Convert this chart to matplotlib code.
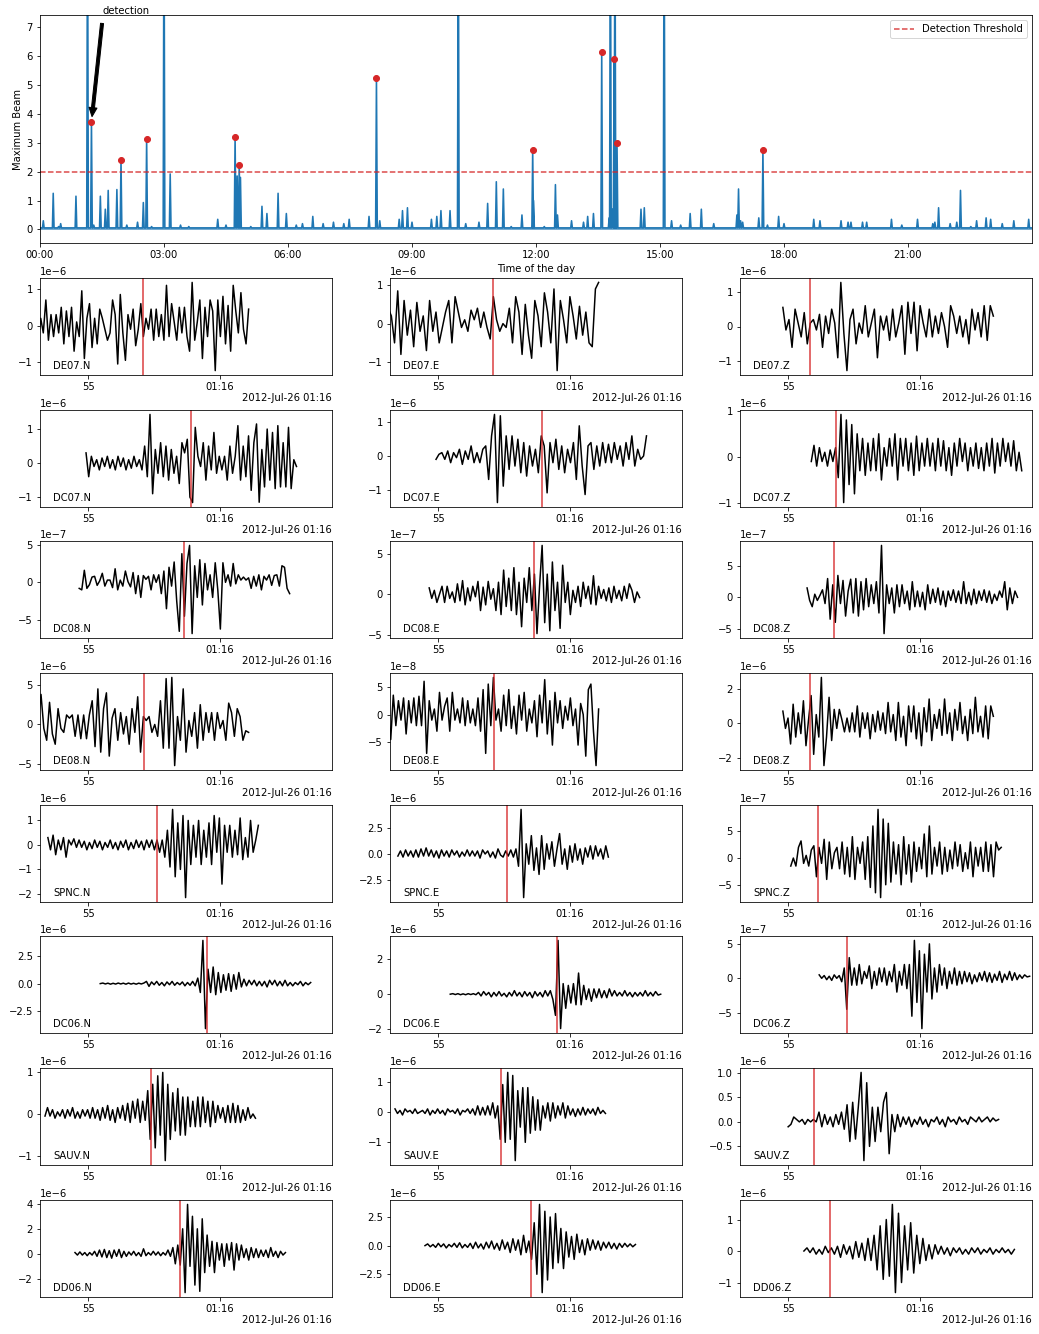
import numpy as np
import matplotlib
matplotlib.use("Agg")
import matplotlib.pyplot as plt

# ---------------- top panel data (hours of day, beam value) ----------------
offscale_hours = [1.15, 3.00, 10.12, 13.80, 13.91, 15.10]
offscale_values = [12, 12, 12, 12, 12, 12]
spike_hours = [0.08, 0.32, 0.45, 0.50, 0.87, 1.30, 1.46, 1.58, 1.65, 1.86, 2.10, 2.36, 2.50,
               2.70, 3.15, 3.40, 3.60, 4.30, 4.50, 4.77, 4.85, 5.10, 5.37, 5.49, 5.76, 5.96,
               6.20, 6.35, 6.60, 6.85, 7.10, 7.35, 7.48, 7.96, 8.22, 8.69, 8.77, 8.89, 9.00,
               9.47, 9.60, 9.70, 9.92, 10.30, 10.62, 10.83, 11.04, 11.21, 11.40, 11.66, 11.94,
               12.20, 12.47, 12.52, 12.86, 13.15, 13.25, 13.39, 13.77, 13.85, 13.93, 14.54,
               14.62, 15.28, 15.50, 15.73, 16.00, 16.30, 16.86, 16.90, 16.95, 17.00, 17.39,
               17.60, 17.87, 18.00, 18.72, 18.87, 19.38, 19.55, 19.62, 19.90, 20.00, 20.60,
               20.85, 21.23, 21.60, 21.65, 21.74, 22.02, 22.18, 22.27, 22.52, 22.66, 22.89,
               23.00, 23.28, 23.56, 23.92]
spike_values = [0.30, 1.25, 0.10, 0.20, 1.15, 0.15, 1.15, 0.70, 1.35, 1.38, 0.15, 0.25, 0.93,
                0.10, 1.92, 0.15, 0.10, 0.35, 0.15, 1.85, 1.80, 0.10, 0.80, 0.55, 1.25, 0.55,
                0.15, 0.20, 0.45, 0.20, 0.25, 0.20, 0.35, 0.45, 0.30, 0.35, 0.65, 0.75, 0.25,
                0.35, 0.45, 0.65, 0.65, 0.20, 0.25, 0.90, 1.65, 1.40, 0.10, 0.50, 1.00,
                0.10, 1.55, 0.50, 0.30, 0.25, 0.45, 0.55, 0.40, 0.70, 1.50, 0.70,
                0.75, 0.30, 0.15, 0.55, 0.70, 0.20, 0.50, 1.40, 0.30, 0.25, 0.40,
                0.15, 0.45, 0.20, 0.35, 0.30, 0.30, 0.25, 0.25, 0.25, 0.25, 0.35,
                0.15, 0.35, 0.20, 0.25, 0.75, 0.20, 0.25, 1.35, 0.10, 0.30, 0.40,
                0.35, 0.20, 0.30, 0.35]
det_hours = [1.245, 1.96, 2.58, 4.72, 4.82, 8.14, 11.92, 13.59, 13.89, 13.96, 17.49]
det_values = [3.72, 2.40, 3.13, 3.20, 2.23, 5.25, 2.75, 6.15, 5.90, 3.00, 2.75]
baseline = 0.05
threshold = 2.0
hour_ticks = [0, 3, 6, 9, 12, 15, 18, 21]
hour_labels = ["00:00", "03:00", "06:00", "09:00", "12:00", "15:00", "18:00", "21:00"]

# ---------------- waveform data (amplitudes in units of the panel scale) ----------------
stations = ["DE07", "DC07", "DC08", "DE08", "SPNC", "DC06", "SAUV", "DD06"]
components = ["N", "E", "Z"]
# seconds after 01:15:00, row-major (station, component)
trace_start = [53.10, 53.10, 54.80,
               54.92, 54.92, 55.88,
               54.66, 54.66, 55.72,
               53.10, 53.10, 54.80,
               53.47, 53.47, 55.10,
               55.46, 55.46, 56.18,
               53.36, 53.36, 55.00,
               54.50, 54.50, 55.60]
pick_time = [57.10, 57.10, 55.84,
             58.90, 58.93, 56.83,
             58.66, 58.66, 56.75,
             57.14, 57.14, 55.84,
             57.60, 57.60, 56.14,
             59.50, 59.52, 57.25,
             57.40, 57.40, 56.00,
             58.50, 58.53, 56.60]
amp_scale = [1e-6, 1e-6, 1e-6,
             1e-6, 1e-6, 1e-6,
             1e-7, 1e-7, 1e-7,
             1e-6, 1e-8, 1e-6,
             1e-6, 1e-6, 1e-7,
             1e-6, 1e-6, 1e-7,
             1e-6, 1e-6, 1e-6,
             1e-6, 1e-6, 1e-6]
trace_duration = 8.0

de07_n = [-0.4, 0.2, -0.2, 0.7, -0.4, 0.3, -0.3, 0.3, -0.2, 0.5, -0.5, 0.4, -0.3, 0.5, -0.7, 0.1,
          -0.3, 0.95, -0.9, 0.2, 0.6, -0.6, 0.2, -0.5, 0.45, 0.2, -0.1, -0.4, -0.2, 0.7, 0.3,
          -1.05, 0.85, -0.2, -0.95, 0.3, -0.1, 0.45, -0.55, -0.1, 0.6, -0.3, 0.2, -0.1, 0.45,
          -0.4, 0.45, -0.3, 0.3, -0.4, 1.1, -0.3, 0.6, 0.1, -0.4, 0.5, -0.2, 0.5, -0.3, -0.7,
          1.18, -0.4, 0.1, 0.7, -0.9, 0.5, -0.3, 0.7, 0.4, -1.23, 0.7, -0.3, 0.8, -0.5, 0.55,
          -0.7, 1.1, 0.4, -0.2, 0.9, -0.1, -0.5, 0.45]
de07_e = [0.4, 0.2, -0.5, 0.85, -0.8, 0.6, -0.3, 0.35, -0.6, 0.55, -0.2, 0.2, -0.7, 0.6, -0.2,
          0.3, -0.5, -0.1, 0.3, 0.6, -0.5, 0.7, 0.3, -0.1, 0.1, -0.2, 0.35, 0.1, 0.4, -0.1, 0.3,
          -0.1, -0.4, 0.7, 0.1, -0.2, 0.0, -0.1, 0.4, -0.5, 0.7, 0.3, -0.8, 0.5, -0.3, -0.9, 0.6,
          0.2, -0.6, 0.8, 0.3, -0.5, 0.9, -1.22, 0.6, 0.1, -0.5, 0.7, 0.2, -0.4, 0.45, -0.3, 0.3,
          -0.5, -0.6, 0.9, 1.07]
de07_z = [0.55, -0.1, 0.2, -0.6, 0.5, 0.1, -0.3, 0.4, -0.5, 0.1, 0.2, -0.1, 0.35, -0.6, 0.3,
          -0.2, 0.5, 0.1, -0.9, 1.27, -0.2, -1.27, 0.2, 0.5, -0.5, 0.1, -0.2, 0.6, -0.3, 0.1, 0.5,
          -0.9, 0.3, -0.1, 0.3, -0.4, 0.5, -0.3, 0.1, 0.6, -0.8, 0.7, -0.2, 0.7, -0.7, 0.6, 0.1,
          -0.3, 0.5, -0.3, 0.3, -0.2, 0.4, 0.0, -0.6, 0.6, 0.3, -0.2, 0.3, -0.3, 0.2, -0.5, 0.5,
          -0.1, 0.4, -0.3, 0.6, -0.4, 0.6, 0.3]
dc07_n = [0.3, -0.4, 0.2, -0.1, 0.1, -0.2, 0.15, -0.1, 0.2, -0.15, 0.1, -0.2, 0.2, -0.1, 0.15,
          -0.2, 0.1, -0.15, 0.2, -0.1, 0.1, -0.2, 0.5, -0.4, 1.43, -0.9, 0.4, -0.3, 0.6, -0.4,
          0.5, -0.5, 0.4, -0.3, 0.2, -0.6, 0.6, 0.3, 0.7, -1.0, -1.16, 1.05, 0.2, -0.1, 0.6,
          -0.5, 0.5, -0.2, 0.9, -0.3, 0.2, -0.2, 0.2, -0.5, 0.5, -0.3, 0.2, 1.1, -0.5, 0.5, -0.4,
          0.8, -0.8, 0.6, 1.15, -1.15, 0.4, -0.7, 1.0, -0.5, 0.9, -0.75, 1.1, -0.7, 0.6, -0.7,
          1.05, -0.75, 0.1, -0.1]
dc07_e = [-0.1, 0.05, 0.1, -0.1, 0.15, -0.2, 0.1, -0.05, 0.2, -0.25, 0.15, -0.1, 0.3, -0.2, 0.1,
          -0.2, 0.2, 0.3, -0.7, 0.6, 1.24, -1.39, 1.2, -0.9, 0.6, -0.4, 0.6, -0.3, 0.5, -0.5, 0.4,
          -0.6, 0.3, -0.3, 0.2, -0.5, 0.6, 0.3, -1.1, 0.4, -0.2, 0.5, -0.4, 0.3, -0.5, 0.2, -0.2,
          0.4, -0.7, 0.9, -0.3, -1.15, 0.3, 0.4, -0.4, 0.3, -0.3, 0.4, -0.2, 0.35, -0.2, 0.4,
          -0.1, 0.3, -0.3, 0.4, -0.1, 0.6, -0.3, 0.2, -0.1, 0.0, 0.6]
dc07_z = [-0.1, 0.25, -0.2, 0.2, -0.1, 0.1, -0.2, 0.15, -0.1, 0.2, -0.45, 0.92, -0.99, 0.8, -0.6,
          0.7, -0.8, 0.5, -0.3, 0.4, -0.4, 0.3, -0.3, 0.4, -0.3, 0.5, -0.5, 0.2, -0.2, 0.4, -0.2,
          0.5, -0.5, 0.4, -0.2, 0.4, -0.3, 0.3, -0.4, 0.45, -0.3, 0.3, -0.2, 0.4, -0.2, 0.3, -0.3,
          0.4, -0.2, 0.35, -0.3, 0.2, -0.4, 0.3, -0.2, 0.4, -0.1, 0.3, -0.3, 0.2, -0.2, 0.3,
          -0.25, 0.2, -0.3, 0.3, -0.2, 0.4, -0.35, 0.3, -0.2, 0.4, -0.1, 0.3, -0.2, 0.35, -0.3,
          0.1, -0.3]
dc08_n = [-0.8, -1.0, 1.6, -0.8, -0.3, 0.7, 0.8, -0.4, 0.2, 1.2, -0.5, 0.3, 0.3, -0.7, 1.8, -1.0,
          0.3, -0.5, 1.5, 0.1, -0.6, 1.3, -1.5, 0.9, -2.0, 0.9, 0.4, 0.8, -1.0, 1.0, 0.0, 1.0,
          -1.5, 1.5, -3.5, 2.0, -0.5, 2.7, -2.5, -6.5, 3.8, -4.5, 2.5, 4.9, -6.8, 2.2, -2.0, 3.0,
          -3.0, 2.5, -1.0, 1.0, -2.0, 2.6, -1.0, -6.2, 2.6, 0.0, 1.0, -0.5, 2.5, -0.2, 1.0, 0.3,
          0.7, 0.3, 0.6, -0.8, 0.8, -0.5, 1.0, -1.0, 0.8, 0.3, 1.0, -0.4, 0.9, 1.0, -0.5, 2.2,
          2.0, -0.8, -1.5]
dc08_e = [0.8, -0.5, 0.5, -1.0, 0.0, 1.0, -1.0, 1.0, -0.5, 0.3, -1.0, 1.3, -0.8, 1.7, -1.3, 0.8,
          -0.8, 1.0, -0.3, 1.6, -2.0, 0.9, -1.3, 1.6, -0.6, 0.7, -2.0, 1.5, -2.5, 3.0, -1.5, 2.0,
          -2.0, 3.3, -2.5, 1.5, -4.0, 2.0, -1.0, 3.3, -2.0, 2.5, -4.85, 1.0, 6.05, -3.5, 2.5,
          -4.5, 4.0, -2.0, 1.5, -4.2, 3.6, -1.0, 1.5, -2.5, 0.5, -1.0, 1.0, -1.5, 1.5, -0.5, 1.0,
          -1.2, 2.3, -1.3, 1.0, -0.5, 0.6, -0.8, 0.8, -1.0, 1.0, -0.5, 0.5, -0.8, 1.0, -0.5, 1.3,
          0.5, -1.0, 0.3, -0.4]
dc08_z = [1.5, -0.5, -1.5, 0.5, -0.5, 0.3, 1.2, -1.0, 3.0, -3.5, 2.0, -4.0, 3.5, -1.0, 2.7, -3.0,
          1.0, 2.9, -2.5, 3.0, -3.0, 2.5, -2.0, 3.0, -1.5, 2.0, -1.0, 2.5, -2.5, 8.3, -5.8, 2.0,
          -1.0, 1.5, -2.5, 2.0, -1.5, 2.0, -1.0, 1.0, -2.0, 2.5, -1.5, 1.0, -1.5, 0.8, -2.0, 2.0,
          -1.0, 1.3, -0.8, 1.5, -1.2, 1.0, -1.5, 1.0, -0.5, 1.2, -0.8, 1.0, -1.0, 2.5, -1.0, 0.8,
          -1.2, 1.3, -1.0, 1.0, -0.5, 1.2, -0.8, 1.0, -1.0, 0.5, -0.5, 1.0, 0.0, 2.5, -2.0, 1.5,
          -1.0, 1.0, 0.0]
de08_n = [0.5, 3.8, -0.5, -2.0, 2.8, -1.2, -2.5, 2.0, -0.5, -1.0, 1.2, 0.8, 1.2, -1.5, 1.2, -1.8,
          1.2, -1.8, 1.2, 3.0, -2.8, 4.5, -3.5, 2.0, 4.0, -4.0, 0.8, 2.0, -2.0, 1.5, -1.2, 1.0,
          -2.5, 2.0, -1.0, 3.5, -3.5, 1.0, 0.5, 1.0, -1.0, 0.0, -1.5, 3.0, -3.0, 5.8, -3.0, 5.95,
          -5.2, 1.0, -2.0, 4.5, -3.5, 0.5, -1.5, 1.5, -3.0, 2.5, -2.0, 1.5, -1.0, 1.5, -2.0, 1.5,
          -0.5, 0.5, -2.0, 2.7, 1.5, -1.5, 2.0, 1.0, -2.0, -0.8, -1.0]
de08_e = [1.0, -4.5, 3.5, -2.0, 2.5, -1.0, 3.0, -3.5, 2.5, -1.5, 3.0, -2.0, 3.3, -2.0, 6.0, -7.0,
          2.5, -1.0, 1.0, -3.0, 4.0, -1.0, 1.5, 3.0, -3.0, 4.0, -1.0, 1.0, -1.5, 3.0, -2.0, 2.5,
          -1.5, 1.0, -2.0, 3.0, -3.0, 4.5, -7.0, 5.5, -2.0, 6.7, -1.0, 1.0, -3.0, 3.5, -2.0, 4.5,
          -2.5, 1.5, -3.5, 3.5, -1.0, 4.0, -3.0, 1.0, -1.5, 2.5, -4.0, 3.5, -1.5, 6.3, -3.5, 2.5,
          -5.5, 4.0, -1.5, 2.5, -2.5, 1.5, -1.0, 3.0, -2.0, 1.0, -5.5, 2.0, 0.0, -7.5, 4.5, 5.5,
          -3.0, -9.2, 1.0]
de08_z = [0.7, -0.3, 0.3, -1.2, 1.1, -0.8, 0.6, -0.6, 1.3, -1.3, 0.2, 1.6, -1.8, 0.5, -0.8, 2.65,
          -2.45, -0.8, 1.5, -1.0, 0.8, -0.3, 0.8, 0.2, -0.5, 0.3, -0.5, 0.6, -0.5, 1.0, -0.8, 0.6,
          -0.3, 0.6, -0.9, 0.5, -0.5, 0.7, -0.4, 0.6, -0.6, 1.2, -0.5, 0.5, -1.0, 1.2, -0.8, 0.4,
          -1.3, 1.0, -0.5, 1.0, -0.9, 0.6, -1.3, 0.9, -0.5, 1.4, -1.0, 0.5, -0.3, 0.8, -0.7, 1.4,
          -0.6, 0.6, -1.0, 0.8, -0.4, 1.2, -0.6, 0.4, -1.0, 0.8, -0.6, 1.5, -0.5, 0.4, -0.8, 1.0,
          -0.9, 1.0, 0.4]
spnc_n = [0.3, -0.2, 0.4, -0.4, 0.2, -0.2, 0.3, -0.5, 0.2, 0.0, 0.25, -0.1, 0.2, -0.1, 0.15, -0.2,
          0.1, -0.15, 0.2, -0.1, 0.15, -0.2, 0.1, -0.1, 0.2, -0.15, 0.1, -0.2, 0.15, -0.1, 0.2,
          -0.2, 0.1, -0.15, 0.2, -0.1, 0.15, -0.2, 0.2, -0.1, 0.2, -0.2, 0.2, -0.3, 0.2, -0.5,
          0.6, -0.9, 1.45, -1.3, 0.9, -1.0, 1.2, -2.15, 1.0, -0.8, 0.8, -0.5, 1.0, -0.8, 0.6,
          -0.5, 0.9, -0.8, 1.2, -0.3, 1.1, -1.6, 0.8, -0.3, 0.8, -0.5, 0.6, -0.4, 1.1, -0.6, 0.3,
          -0.5, 1.0, -0.3, 0.2, 0.8]
spnc_e = [-0.2, 0.3, -0.3, 0.4, -0.2, 0.3, -0.3, 0.4, -0.3, 0.5, -0.2, 0.6, -0.2, 0.4, -0.3, 0.3,
          -0.4, 0.4, -0.2, 0.3, -0.3, 0.4, -0.1, 0.3, -0.3, 0.2, -0.2, 0.4, -0.2, 0.3, -0.2, 0.3,
          -0.4, 0.4, 0.0, 0.3, -0.3, 0.2, -0.4, 0.5, -0.1, -0.3, 0.3, -0.2, 0.4, -0.3, 0.5, -1.2,
          4.37, -4.27, 1.0, -1.0, 1.8, -1.6, 0.6, -2.0, 1.8, -1.5, 1.0, -0.5, 1.2, -1.2, 0.5, 2.0,
          -1.0, 0.5, -1.5, 0.8, -0.8, 1.0, -0.6, 0.5, -1.0, 0.6, -0.3, 0.8, -0.5, 0.8, -0.2, 0.5,
          -0.5, 0.8, -0.3]
spnc_z = [-1.5, 0.0, -1.5, 2.0, 3.2, -1.0, 0.5, -1.5, 1.5, 2.3, -3.5, 2.0, -1.0, 3.5, -4.0, 3.0,
          -2.0, 1.0, 2.0, -2.0, 3.0, -3.0, 2.0, -3.5, 4.0, -4.0, 2.0, -1.0, 3.0, -4.0, 4.0, -5.5,
          6.0, -6.5, 9.1, -7.4, 7.3, -5.0, 6.5, -4.5, 3.0, -3.0, 2.5, -5.0, 4.0, -3.0, 2.5, -4.5,
          3.0, -2.5, 2.0, -2.0, 4.5, -3.5, 6.0, -3.0, 2.0, -1.5, 3.0, -3.0, 2.0, -2.5, 1.5, -2.0,
          3.0, -1.5, 2.5, -2.5, 1.0, -2.0, 3.0, -3.5, 2.0, -1.5, 2.0, -2.5, 3.0, -2.5, 2.5, -3.5,
          3.0, 1.5, 2.0]
dc06_n = [0.0, 0.05, -0.03, 0.04, -0.05, 0.03, -0.04, 0.05, -0.03, 0.04, -0.05, 0.05, -0.04, 0.03,
          -0.05, 0.04, -0.03, 0.05, 0.2, -0.25, 0.15, -0.1, 0.2, -0.15, 0.1, -0.2, 0.15, -0.1, 0.2,
          -0.15, 0.1, -0.1, 0.15, -0.2, 0.1, -0.15, 0.2, -0.2, 0.5, -0.8, 3.9, -4.06, 1.3, -0.8,
          1.5, -1.0, 1.0, -0.8, 0.8, -0.6, 0.9, -0.7, 0.8, -0.5, 1.0, -0.3, 0.4, -0.2, 0.3, -0.1,
          0.3, -0.2, 0.2, -0.2, 0.2, -0.3, 0.3, -0.1, 0.3, -0.2, 0.2, -0.2, 0.3, -0.2, 0.1, -0.2,
          0.1, -0.1, 0.2, -0.2, 0.1, -0.1, 0.1]
dc06_e = [0.0, 0.03, -0.02, 0.03, -0.03, 0.02, -0.03, 0.03, -0.02, 0.03, -0.03, 0.1, -0.1, 0.15,
          -0.05, 0.1, -0.15, 0.1, -0.1, 0.15, -0.1, 0.05, -0.15, 0.1, -0.1, 0.2, -0.1, 0.1, -0.15,
          0.15, -0.1, 0.1, -0.2, 0.15, -0.1, 0.1, -0.15, 0.2, -0.1, 0.2, -0.3, -1.2, 3.05, -1.95,
          0.6, -0.8, 0.5, -0.5, 0.6, -0.6, 1.2, -0.6, 0.5, -0.3, 0.3, -0.4, 0.3, -0.2, 0.3, -0.2,
          0.2, -0.2, 0.3, -0.1, 0.2, -0.1, 0.1, -0.1, 0.2, -0.1, 0.1, -0.15, 0.1, -0.1, 0.1, -0.1,
          0.2, -0.1, 0.1, -0.1, 0.15, -0.05, 0.0]
dc06_z = [0.5, 0.0, 0.4, -0.2, 0.3, -0.3, 0.5, 0.0, 0.4, -0.5, 1.5, -4.5, 3.0, -1.0, 1.5, -1.0,
          2.0, -0.8, 1.0, 0.0, 1.8, -1.5, 1.0, -1.0, 1.5, -0.5, 1.5, -1.0, 1.0, -0.5, 2.0, -2.0,
          1.0, -1.0, 2.0, -1.5, 2.0, -5.5, 5.5, -3.5, 4.0, -7.3, 3.5, -2.0, 5.0, -3.0, 1.5, -2.0,
          2.0, -1.0, 1.5, -1.5, 1.0, -0.8, 1.5, -1.0, 1.0, -0.8, 1.0, -0.5, 0.8, -0.8, 0.5, -0.5,
          0.8, -0.3, 1.0, -0.5, 0.8, -0.6, 0.6, -0.3, 1.0, -0.6, 0.6, -0.2, 1.0, -0.3, 0.8, -0.2,
          0.5, 0.0, 0.5, 0.2, 0.3]
sauv_n = [-0.05, 0.15, -0.05, 0.1, -0.1, 0.05, -0.05, 0.1, -0.1, 0.1, -0.05, 0.15, -0.1, 0.05,
          -0.1, 0.1, -0.05, 0.1, -0.1, 0.15, -0.1, 0.1, -0.15, 0.15, -0.1, 0.2, -0.15, 0.1, -0.2,
          0.15, -0.1, 0.2, -0.15, 0.25, -0.2, 0.3, -0.1, 0.35, -0.2, 0.3, -0.15, 0.55, -0.6, 0.7,
          -0.8, 0.9, -0.5, 0.98, -1.1, 0.7, -0.6, 0.5, -0.4, 0.6, -0.5, 0.4, -0.5, 0.4, -0.3, 0.3,
          -0.3, 0.4, -0.3, 0.4, -0.2, 0.3, -0.3, 0.3, -0.2, 0.2, -0.1, 0.15, -0.2, 0.2, -0.2, 0.25,
          -0.2, 0.2, -0.2, 0.1, -0.15, 0.15, -0.1, 0.0, -0.1]
sauv_e = [0.1, -0.05, 0.05, -0.1, 0.1, 0.0, 0.05, -0.05, 0.1, -0.05, 0.0, 0.05, -0.05, 0.1, -0.1,
          0.05, -0.05, 0.1, -0.05, 0.05, -0.1, 0.1, 0.0, 0.05, -0.05, 0.1, -0.1, 0.05, 0.0, 0.1,
          -0.05, 0.1, -0.1, 0.2, -0.1, 0.15, -0.1, 0.2, -0.1, 0.3, -0.2, 0.2, -0.9, 0.9, -1.0,
          1.3, -0.9, 1.2, -1.6, 0.7, -0.5, 0.8, -1.0, 0.8, -0.7, 0.5, -0.6, 0.4, -0.6, 0.2, -0.2,
          0.3, -0.3, 0.3, -0.2, 0.2, -0.1, 0.3, -0.2, 0.2, -0.1, 0.1, -0.15, 0.1, -0.1, 0.15,
          -0.1, 0.1, -0.05, 0.1, -0.1, 0.15, -0.05, 0.05, -0.05]
sauv_z = [-0.1, -0.05, 0.1, 0.05, 0.0, 0.05, -0.05, 0.05, 0.0, 0.05, 0.0, 0.2, -0.1, 0.15, -0.05,
          0.1, -0.1, 0.15, -0.05, 0.2, -0.15, 0.35, -0.4, 0.4, -0.35, 0.3, 1.01, -0.79, 0.8, -0.5,
          0.3, -0.4, 0.3, -0.2, 0.4, 0.6, -0.65, 0.15, -0.2, 0.15, -0.1, 0.1, -0.05, 0.1, -0.1,
          0.05, -0.05, 0.1, -0.05, 0.05, -0.1, 0.05, 0.0, 0.1, -0.05, 0.05, -0.1, 0.1, 0.0, 0.05,
          -0.05, 0.1, 0.0, 0.05, -0.05, 0.1, 0.05, 0.0, 0.1, 0.0, 0.05, 0.1, 0.0, 0.08, 0.02, 0.05]
dd06_n = [0.1, -0.1, 0.15, -0.1, 0.1, -0.15, 0.1, -0.1, 0.2, -0.2, 0.3, -0.25, 0.35, -0.3, 0.25,
          -0.35, 0.3, -0.2, 0.35, -0.3, 0.2, -0.2, 0.15, -0.1, 0.2, -0.15, 0.1, -0.2, 0.4, -0.15,
          0.1, -0.1, 0.2, -0.1, 0.15, -0.15, 0.1, -0.1, 0.3, -0.2, 0.5, -0.8, 0.7, -0.9, 2.0,
          -3.1, 3.95, -1.0, 3.0, -2.5, 2.0, -3.0, 2.8, -1.5, 1.5, -1.0, 1.0, -1.5, 0.9, -0.5,
          0.8, -1.0, 0.8, -0.5, 0.9, -1.3, 0.8, -0.5, 0.7, -0.3, 0.4, -0.5, 0.5, -0.3, 0.4, -0.3,
          0.3, -0.2, 0.3, -0.3, 0.5, -0.2, 0.2, -0.3, 0.2, -0.1, 0.1]
dd06_e = [0.0, 0.15, -0.1, 0.1, -0.15, 0.2, -0.1, 0.15, -0.2, 0.1, -0.1, 0.2, -0.15, 0.25, -0.2,
          0.1, -0.15, 0.2, -0.25, 0.3, -0.2, 0.15, -0.3, 0.3, -0.2, 0.4, -0.3, 0.2, -0.4, 0.5,
          -0.3, 0.3, -0.6, 0.6, -0.4, 0.5, -0.8, 0.9, -0.6, 0.4, -1.2, 2.0, -2.5, 3.6, -4.1, 3.0,
          -3.0, 2.5, -2.0, 2.8, -1.5, 1.5, -2.0, 1.2, -1.0, 0.8, -1.2, 1.0, -0.6, 0.5, -0.8, 0.6,
          -0.4, 0.5, -0.3, 0.4, -0.4, 0.3, -0.2, 0.3, -0.25, 0.2, -0.3, 0.2, -0.15, 0.2, -0.1,
          0.15, -0.1, 0.1]
dd06_z = [0.0, 0.1, -0.05, 0.1, -0.1, 0.05, -0.1, 0.15, -0.05, 0.1, -0.1, 0.15, -0.2, 0.2, -0.1,
          0.15, -0.25, 0.3, -0.2, 0.25, -0.3, 0.4, -0.3, 0.5, -0.6, 0.8, -0.9, 1.0, -0.8, 1.48,
          -1.32, 1.2, -1.0, 0.8, -0.6, 0.9, -0.7, 0.5, -0.4, 0.4, -0.3, 0.2, -0.25, 0.2, -0.1,
          0.15, -0.1, 0.1, -0.15, 0.1, -0.05, 0.1, -0.1, 0.05, -0.1, 0.1, -0.05, 0.1, -0.1, 0.05,
          -0.05, 0.1, -0.1, 0.05, -0.05, 0.1, -0.05, 0.05, -0.1, 0.05]

waveforms = [de07_n, de07_e, de07_z, dc07_n, dc07_e, dc07_z, dc08_n, dc08_e, dc08_z,
             de08_n, de08_e, de08_z, spnc_n, spnc_e, spnc_z, dc06_n, dc06_e, dc06_z,
             sauv_n, sauv_e, sauv_z, dd06_n, dd06_e, dd06_z]
sec_ticks = [55, 60]
sec_labels = ["55", "01:16"]
offset_label = "2012-Jul-26 01:16"

# ---------------- figure ----------------
plt.rcParams["font.family"] = ["DejaVu Sans"]
plt.rcParams["font.size"] = 10
W, H = 1039, 1334
fig = plt.figure(figsize=(W / 72, H / 72), dpi=72)


def px_axes(left, top, width, height):
    return fig.add_axes([left / W, (H - top - height) / H, width / W, height / H])


ax = px_axes(40, 15, 992, 228)
pts = sorted(list(zip(offscale_hours, offscale_values)) + list(zip(spike_hours, spike_values))
             + list(zip(det_hours, det_values)))
w = 0.02
xs, ys = [0.0], [baseline]
for t, v in pts:
    xs += [t - w, t, t + w]
    ys += [baseline, v, baseline]
xs.append(24.0)
ys.append(baseline)
ax.plot(xs, ys, color="tab:blue", lw=1.6)
ax.axhline(baseline, color="tab:blue", lw=3.0, alpha=0.6)
ax.plot(det_hours, det_values, "o", color="tab:red", ms=6, zorder=3)
ax.axhline(threshold, color="tab:red", ls="--", lw=1.5, alpha=0.85, label="Detection Threshold")
ax.annotate("detection", xy=(det_hours[0], det_values[0]), xytext=(1.52, 7.45),
            arrowprops=dict(facecolor="black", width=3, headwidth=8, headlength=9, shrink=0.05),
            annotation_clip=False)
ax.set_xlim(0, 24)
ax.set_ylim(-0.47, 7.42)
ax.set_xticks(hour_ticks)
ax.set_xticklabels(hour_labels)
ax.set_xlabel("Time of the day")
ax.set_ylabel("Maximum Beam")
ax.legend(loc="upper right")

col_left = [40, 390, 740]
row_top = [278, 410, 541, 673, 805, 936, 1068, 1200]
for i, st in enumerate(stations):
    for j, comp in enumerate(components):
        k = i * 3 + j
        a = px_axes(col_left[j], row_top[i], 292, 97)
        vals = np.array(waveforms[k]) * amp_scale[k]
        t = trace_start[k] + np.linspace(0, trace_duration, len(vals))
        a.plot(t, vals, color="black", lw=1.5)
        a.axvline(pick_time[k], color="tab:red", lw=1.5, alpha=0.9)
        a.set_xlim(53.17, 64.27)
        a.set_xticks(sec_ticks)
        a.set_xticklabels(sec_labels)
        a.text(0.045, 0.04, f"{st}.{comp}", transform=a.transAxes, ha="left", va="bottom")
        a.text(1.0, -0.19, offset_label, transform=a.transAxes, ha="right", va="top")

fig.savefig("out.png", dpi=72)
